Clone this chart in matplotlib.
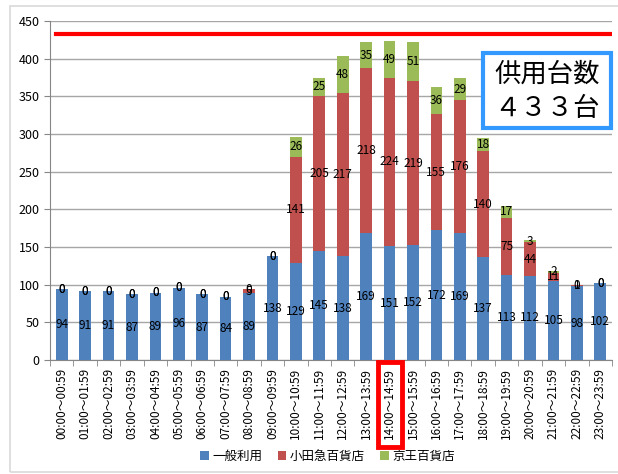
import matplotlib
matplotlib.use('Agg')
import matplotlib.pyplot as plt
from matplotlib.patches import Rectangle
import numpy as np

plt.rcParams['font.family'] = ['Noto Sans CJK JP', 'DejaVu Sans']

hours = ['%02d:00～%02d:59' % (h, h) for h in range(24)]
general = [94, 91, 91, 87, 89, 96, 87, 84, 89, 138, 129, 145, 138, 169, 151, 152, 172, 169, 137, 113, 112, 105, 98, 102]
odakyu = [0, 0, 0, 0, 0, 0, 0, 0, 5, 0, 141, 205, 217, 218, 224, 219, 155, 176, 140, 75, 44, 11, 1, 0]
keio = [0, 0, 0, 0, 0, 0, 0, 0, 0, 0, 26, 25, 48, 35, 49, 51, 36, 29, 18, 17, 3, 2, 0, 0]
series_names = ['一般利用', '小田急百貨店', '京王百貨店']
capacity = 433

colors = ['#4F81BD', '#C0504D', '#9BBB59']

fig = plt.figure(figsize=(6.18, 4.74), dpi=100)
ax = fig.add_axes([50/618, 1-360/474, 562/618, 339/474])

x = np.arange(len(hours))
g = np.array(general)
o = np.array(odakyu)
k = np.array(keio)
ax.bar(x, g, 0.5, color=colors[0], label=series_names[0], zorder=3)
ax.bar(x, o, 0.5, bottom=g, color=colors[1], label=series_names[1], zorder=3)
ax.bar(x, k, 0.5, bottom=g+o, color=colors[2], label=series_names[2], zorder=3)

# value labels in the middle of each segment
for i in x:
    ax.text(i, g[i]/2, str(g[i]), ha='center', va='center', fontsize=8.5, zorder=5)
    ax.text(i, g[i]+o[i]/2, str(o[i]), ha='center', va='center', fontsize=8.5, zorder=5)
    ax.text(i, g[i]+o[i]+k[i]/2, str(k[i]), ha='center', va='center', fontsize=8.5, zorder=5)

ax.axhline(capacity, color='#FF0000', lw=3, xmin=0.01, xmax=1, zorder=4)

ax.set_xlim(-0.5, 23.5)
ax.set_ylim(0, 450)
ax.set_yticks(range(0, 451, 50))
ax.yaxis.grid(True, color='#A6A6A6', lw=1, zorder=0)
ax.set_xticks(x)
ax.set_xticklabels(hours, rotation=90, fontsize=8.5)
ax.set_xticks(np.arange(-0.5, 24, 1), minor=True)
ax.tick_params(axis='x', which='major', length=0, pad=6)
ax.tick_params(axis='x', which='minor', length=4, color='#868686')
ax.tick_params(axis='y', length=4, color='#868686', labelsize=9)
for s in ['top', 'right']:
    ax.spines[s].set_visible(False)
ax.spines['left'].set_color('#868686')
ax.spines['bottom'].set_color('#868686')

# capacity box
fig.patches.append(Rectangle((483/618, 1-128/474), 128/618, 75/474, transform=fig.transFigure,
                             fc='white', ec='#3399FF', lw=3, zorder=6))
fig.text(547/618, 1-74/474, '供用台数', ha='center', va='center', fontsize=19, zorder=7)
fig.text(547/618, 1-108/474, '４３３台', ha='center', va='center', fontsize=19, zorder=7)

# highlight 14:00 label
fig.patches.append(Rectangle((378/618, 1-447/474), 24/618, 85/474, transform=fig.transFigure,
                             fill=False, ec='#FF0000', lw=3.5))

# outer frame
fig.patches.append(Rectangle((10/618, 2/474), 0.99, 1-8/474, transform=fig.transFigure,
                             fill=False, ec='#D9D9D9', lw=1.2))

fig.legend(loc='lower center', bbox_to_anchor=(0.53, 0.0), ncol=3, frameon=False,
           fontsize=9, handlelength=0.7, handleheight=0.7, handletextpad=0.3, columnspacing=1.2)

fig.savefig('out.png', dpi=100)
